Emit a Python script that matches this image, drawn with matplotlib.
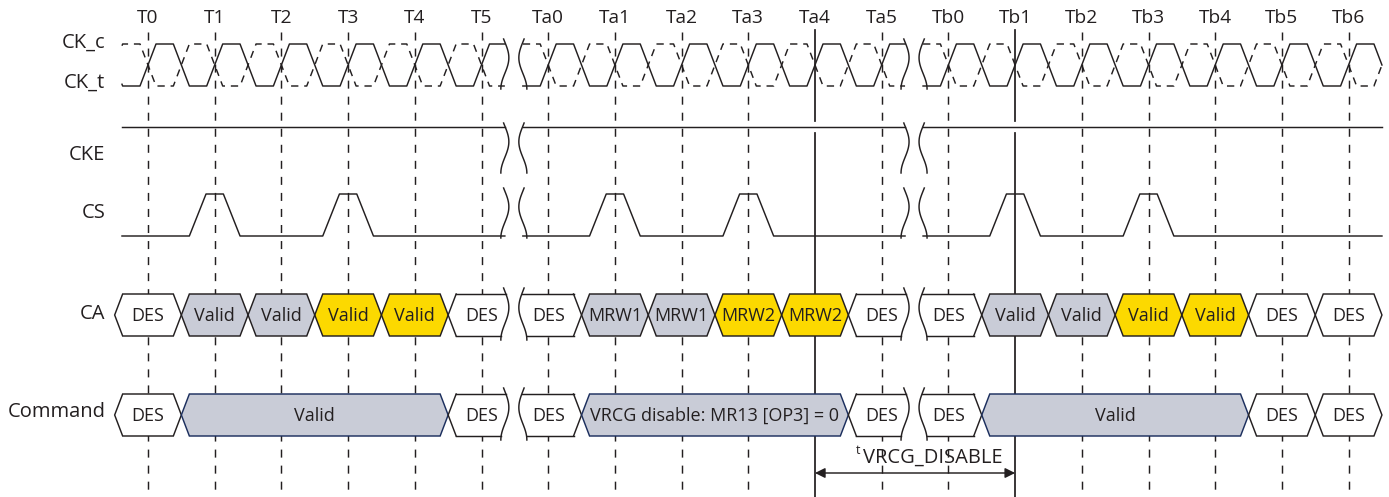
import numpy as np
import matplotlib
matplotlib.use("Agg")
import matplotlib.pyplot as plt
from matplotlib.patches import Polygon

# ---------------- data ----------------
tick_labels = ["T0", "T1", "T2", "T3", "T4", "T5",
               "Ta0", "Ta1", "Ta2", "Ta3", "Ta4", "Ta5",
               "Tb0", "Tb1", "Tb2", "Tb3", "Tb4", "Tb5", "Tb6"]
break_after = [5, 11]                 # time breaks between T5/Ta0 and Ta5/Tb0
ca_labels = ["DES", "Valid", "Valid", "Valid", "Valid", "DES",
             "DES", "MRW1", "MRW1", "MRW2", "MRW2", "DES",
             "DES", "Valid", "Valid", "Valid", "Valid", "DES", "DES"]
ca_kinds = ["des", "grey", "grey", "yel", "yel", "des",
            "des", "grey", "grey", "yel", "yel", "des",
            "des", "grey", "grey", "yel", "yel", "des", "des"]
cmd_start = [0, 1, 5, 6, 7, 11, 12, 13, 17, 18]
cmd_end = [0, 4, 5, 6, 10, 11, 12, 16, 17, 18]
cmd_labels = ["DES", "Valid", "DES", "DES", "VRCG disable: MR13 [OP3] = 0",
              "DES", "DES", "Valid", "DES", "DES"]
cmd_kinds = ["des", "cmd", "des", "des", "cmd", "des", "des", "cmd", "des", "des"]
cs_pulses = [1, 3, 7, 9, 13, 15]
marker_idx = [10, 13]                 # solid reference lines at Ta4 and Tb1
timing_label = "VRCG_DISABLE"
row_labels = ["CK_c", "CK_t", "CKE", "CS", "CA", "Command"]

# ---------------- style / layout ----------------
W, H = 1389, 497
PX0, PITCH = 148.0, 66.7
INK = "#231f20"
FILL = {"des": "white", "grey": "#c9ccd7", "yel": "#fcd900", "cmd": "#c9ccd7"}
EDGE = {"des": INK, "grey": INK, "yel": INK, "cmd": "#1c2f5e"}
FS_BOX = 13
FS_TICK = 13.8
FS_ROW = 14.5
LW = 1.05
plt.rcParams["font.family"] = ["Open Sans", "DejaVu Sans"]

CK_HI, CK_LO = 44, 86
CKE_Y = 127
CS_HI, CS_LO = 194, 236
CA_Y, CMD_Y, HALF = 315, 415, 21
SLANT = 0.12
X_START, X_END = -0.39, 18.5
BL_OFF, BR_OFF = 0.35, 0.62
AMP = 0.06

fig = plt.figure(figsize=(W / 100, H / 100), dpi=100)
ax = fig.add_axes([0, 0, 1, 1])
ax.set_xlim(-PX0 / PITCH, (W - PX0) / PITCH)
ax.set_ylim(H, 0)
ax.axis("off")

def squig_x(x0, ytop, ybot, sign, y):
    t = (np.asarray(y) - ytop) / (ybot - ytop)
    return x0 + sign * AMP * np.sin(np.pi * (1.6 * t - 0.1))

def draw_squig(x0, ytop, ybot, sign):
    y = np.linspace(ytop, ybot, 60)
    ax.plot(squig_x(x0, ytop, ybot, sign, y), y, color=INK, lw=LW, zorder=5)

breaks = [(k + BL_OFF, k + BR_OFF) for k in break_after]
segments = [(X_START, breaks[0][0]), (breaks[0][1], breaks[1][0]), (breaks[1][1], X_END)]

# ---------------- grid lines ----------------
for i, lab in enumerate(tick_labels):
    ax.text(i, 18, lab, ha="center", va="center", fontsize=FS_TICK, color=INK)
    if i not in marker_idx:
        ax.plot([i, i], [32, H], color=INK, lw=LW, ls=(0, (5.5, 5.5)), zorder=1)
for i in marker_idx:
    ax.plot([i, i], [30, 121], color=INK, lw=LW * 1.2, zorder=1)
    ax.plot([i, i], [133, H], color=INK, lw=LW * 1.2, zorder=1)

# ---------------- clock ----------------
bp_u, bp_y = [], []
for k in range(-2, 21):
    bp_u += [k - 0.12, k + 0.12, k + 0.38, k + 0.62]
    bp_y += [CK_LO, CK_HI, CK_HI, CK_LO]
bp_u, bp_y = np.array(bp_u), np.array(bp_y)

def seg_wave(u0, u1, bu, by):
    inner = bu[(bu > u0) & (bu < u1)]
    uu = np.concatenate([[u0], inner, [u1]])
    return uu, np.interp(uu, bu, by)

for (u0, u1) in segments:
    uu, yy = seg_wave(u0, u1, bp_u, bp_y)
    ax.plot(uu, yy, color=INK, lw=LW, zorder=2)
    ax.plot(uu, CK_HI + CK_LO - yy, color=INK, lw=LW, ls=(0, (5, 4)), zorder=2)

# ---------------- CKE ----------------
for (u0, u1) in segments:
    ax.plot([u0, u1], [CKE_Y, CKE_Y], color=INK, lw=LW, zorder=2)

# ---------------- CS ----------------
cs_u, cs_y = [X_START - 1], [CS_LO]
for c in cs_pulses:
    cs_u += [c - 0.38, c - 0.13, c + 0.13, c + 0.38]
    cs_y += [CS_LO, CS_HI, CS_HI, CS_LO]
cs_u += [X_END + 1]
cs_y += [CS_LO]
cs_u, cs_y = np.array(cs_u), np.array(cs_y)
for (u0, u1) in segments:
    uu, yy = seg_wave(u0, u1, cs_u, cs_y)
    ax.plot(uu, yy, color=INK, lw=LW, zorder=2)

# ---------------- bus boxes ----------------
def draw_box(a, b, yc, kind, cut_left=None, cut_right=None):
    top, bot = yc - HALF, yc + HALF
    ys = np.linspace(top, bot, 30)
    sq_top, sq_bot = top - 6, bot + 4
    if cut_right is None:
        right = [(b - SLANT, top), (b, yc), (b - SLANT, bot)]
    else:
        right = list(zip(squig_x(cut_right, sq_top, sq_bot, 1, ys), ys))
    if cut_left is None:
        left = [(a + SLANT, bot), (a, yc), (a + SLANT, top)]
    else:
        left = list(zip(squig_x(cut_left, sq_top, sq_bot, -1, ys[::-1]), ys[::-1]))
    pts = left + right
    ax.add_patch(Polygon(pts, closed=True, facecolor=FILL[kind], edgecolor="none", zorder=3))
    ec = EDGE[kind]
    if cut_left is None and cut_right is None:
        ax.add_patch(Polygon(pts, closed=True, facecolor="none", edgecolor=ec, lw=LW, zorder=4))
    else:
        if cut_left is None:
            ax.plot([p[0] for p in left], [p[1] for p in left], color=ec, lw=LW, zorder=4)
        if cut_right is None:
            ax.plot([p[0] for p in right], [p[1] for p in right], color=ec, lw=LW, zorder=4)
        ax.plot([left[-1][0], right[0][0]], [top, top], color=ec, lw=LW, zorder=4)
        ax.plot([left[0][0], right[-1][0]], [bot, bot], color=ec, lw=LW, zorder=4)

def cut_for(i0, i1):
    cl, cr = None, None
    for k, (bl, br) in zip(break_after, breaks):
        if i1 == k:
            cr = bl
        if i0 == k + 1:
            cl = br
    return cl, cr

for i, (lab, kind) in enumerate(zip(ca_labels, ca_kinds)):
    cl, cr = cut_for(i, i)
    draw_box(i - 0.5, i + 0.5, CA_Y, kind, cl, cr)
    ax.text(i, CA_Y + 1, lab, ha="center", va="center", fontsize=FS_BOX, color=INK, zorder=6)

for s, e, lab, kind in zip(cmd_start, cmd_end, cmd_labels, cmd_kinds):
    cl, cr = cut_for(s, e)
    draw_box(s - 0.5, e + 0.5, CMD_Y, kind, cl, cr)
    ax.text((s + e) / 2, CMD_Y + 1, lab, ha="center", va="center", fontsize=FS_BOX, color=INK, zorder=6)

# ---------------- break squiggles ----------------
row_spans = [(39, 89), (123, 173), (188, 238),
             (CA_Y - HALF - 6, CA_Y + HALF + 4), (CMD_Y - HALF - 6, CMD_Y + HALF + 4)]
for bl, br in breaks:
    for (yt, yb) in row_spans:
        draw_squig(bl, yt, yb, 1)
        draw_squig(br, yt, yb, -1)

# ---------------- row labels ----------------
label_y = [43, 83, 155, 213, 314, 412]
for lab, y in zip(row_labels, label_y):
    ax.text(-0.64, y, lab, ha="right", va="center", fontsize=FS_ROW, color=INK)

# ---------------- timing annotation ----------------
a0, a1 = marker_idx
ax.annotate("", xy=(a0, 473), xytext=(a1, 473),
            arrowprops=dict(arrowstyle="<|-|>", color=INK, lw=LW,
                            mutation_scale=15, shrinkA=0, shrinkB=0), zorder=6)
ax.text(a0 + 0.72, 458, timing_label, ha="left", va="center", fontsize=FS_ROW, color=INK)
ax.text(a0 + 0.61, 451, "t", ha="left", va="center", fontsize=9, color=INK)

fig.savefig("out.png", dpi=100)
